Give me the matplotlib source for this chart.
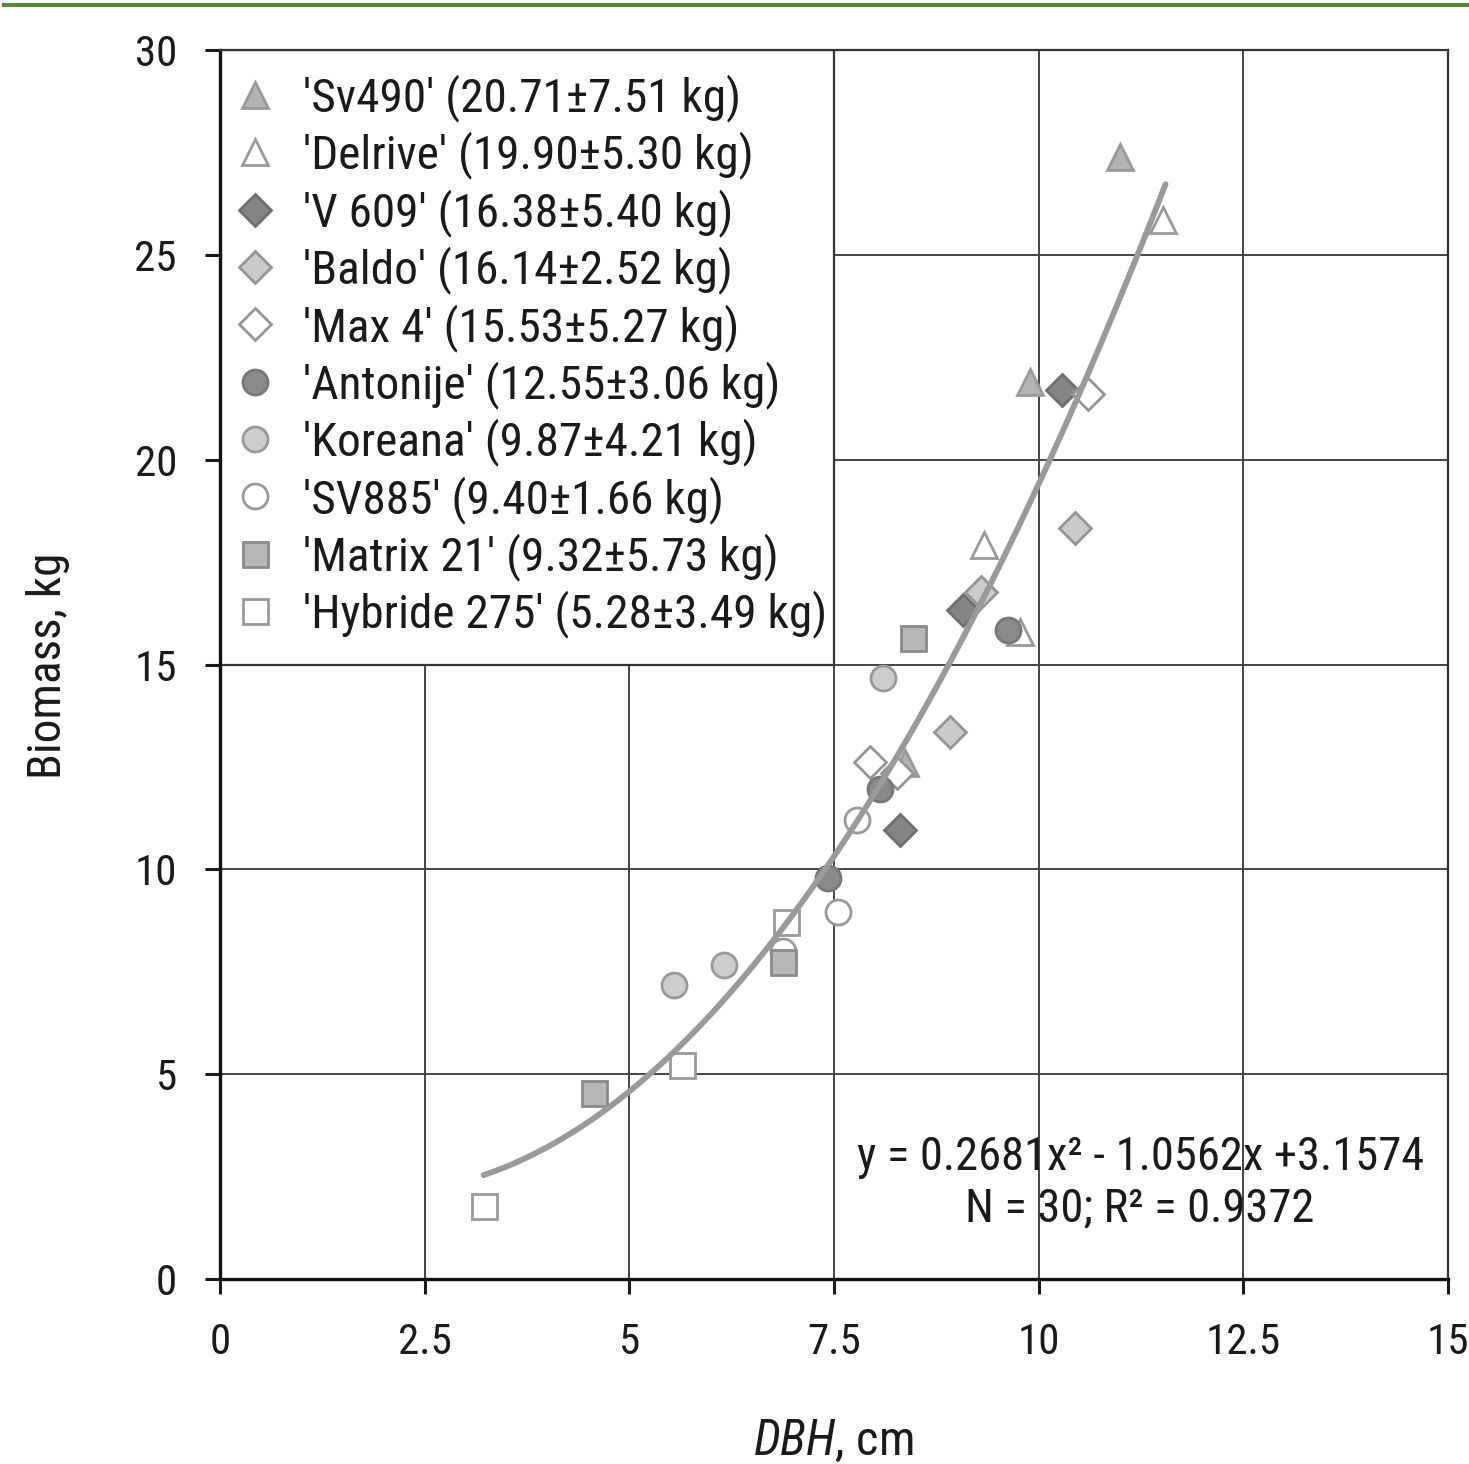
import numpy as np
import matplotlib
matplotlib.use('Agg')
import matplotlib.pyplot as plt
from matplotlib.patches import Rectangle
from matplotlib.lines import Line2D

plt.rcParams['font.family'] = ['Roboto Condensed', 'Archivo Narrow', 'Liberation Sans', 'DejaVu Sans']
plt.rcParams['mathtext.fontset'] = 'custom'
plt.rcParams['mathtext.it'] = 'Roboto Condensed:italic'
plt.rcParams['mathtext.rm'] = 'Roboto Condensed'

# Daten je Sorte: DBH (cm) und Biomasse (kg)
sorten = ["'Sv490' (20.71±7.51 kg)", "'Delrive' (19.90±5.30 kg)", "'V 609' (16.38±5.40 kg)",
          "'Baldo' (16.14±2.52 kg)", "'Max 4' (15.53±5.27 kg)", "'Antonije' (12.55±3.06 kg)",
          "'Koreana' (9.87±4.21 kg)", "'SV885' (9.40±1.66 kg)", "'Matrix 21' (9.32±5.73 kg)",
          "'Hybride 275' (5.28±3.49 kg)"]

sv490_x = [10.99, 9.89, 8.37]
sv490_y = [27.4, 21.9, 12.6]
delrive_x = [11.52, 9.33, 9.77]
delrive_y = [25.85, 17.92, 15.8]
v609_x = [10.28, 9.08, 8.31]
v609_y = [21.7, 16.33, 10.96]
baldo_x = [10.44, 8.92, 9.29]
baldo_y = [18.33, 13.35, 16.77]
max4_x = [10.6, 7.94, 8.27]
max4_y = [21.6, 12.62, 12.35]
antonije_x = [9.63, 8.06, 7.43]
antonije_y = [15.85, 11.95, 9.8]
koreana_x = [8.1, 5.55, 6.16]
koreana_y = [14.67, 7.18, 7.66]
sv885_x = [7.78, 7.55, 6.88]
sv885_y = [11.2, 8.96, 8.0]
matrix_x = [8.46, 6.88, 4.57]
matrix_y = [15.65, 7.75, 4.55]
hybride_x = [6.91, 5.64, 3.22]
hybride_y = [8.71, 5.22, 1.78]

# Regression y = a x^2 + b x + c
koef = [0.2681, -1.0562, 3.1574]
x_bereich = [3.22, 11.55]

x_ticks = [0, 2.5, 5, 7.5, 10, 12.5, 15]
x_labels = ['0', '2.5', '5', '7.5', '10', '12.5', '15']
y_ticks = [0, 5, 10, 15, 20, 25, 30]

# Stil je Serie: (Marker, Füllung, Rand, Größe)
stile = [('^', '#b4b4b4', '#9a9a9a', 19),
         ('^', 'white', '#9a9a9a', 19),
         ('D', '#858585', '#6e6e6e', 16.5),
         ('D', '#cbcbcb', '#959595', 16.5),
         ('D', 'white', '#959595', 16.5),
         ('o', '#8a8a8a', '#777777', 18),
         ('o', '#cdcdcd', '#999999', 18),
         ('o', 'white', '#999999', 18),
         ('s', '#b8b8b8', '#8a8a8a', 18),
         ('s', 'white', '#999999', 18)]

reihen = [(sv490_x, sv490_y), (delrive_x, delrive_y), (v609_x, v609_y), (baldo_x, baldo_y),
          (max4_x, max4_y), (antonije_x, antonije_y), (koreana_x, koreana_y),
          (sv885_x, sv885_y), (matrix_x, matrix_y), (hybride_x, hybride_y)]

fig = plt.figure(figsize=(14.69, 14.64), dpi=100)
ax = fig.add_axes([220 / 1469, 1 - 1279 / 1464, 1228 / 1469, 1229 / 1464])

ax.set_xlim(0, 15)
ax.set_ylim(0, 30)
ax.set_xticks(x_ticks)
ax.set_xticklabels(x_labels)
ax.set_yticks(y_ticks)
ax.grid(True, color='#444444', linewidth=1.4, zorder=0)
ax.set_axisbelow(True)

ax.tick_params(axis='both', direction='out', length=11, width=2.2, labelsize=31,
               colors='#1a1a1a', pad=20)
for s in ['left', 'bottom']:
    ax.spines[s].set_linewidth(2.4)
    ax.spines[s].set_color('#111111')
for s in ['top', 'right']:
    ax.spines[s].set_linewidth(1.6)
    ax.spines[s].set_color('#333333')

# weiße Box für die Legende
ax.add_patch(Rectangle((0, 15), 7.5, 15, facecolor='white', edgecolor='#333333',
                       linewidth=1.6, zorder=1))

# Punkte
for (xs, ys), (m, fc, ec, ms) in zip(reihen, stile):
    ax.plot(xs, ys, linestyle='none', marker=m, markersize=ms, markerfacecolor=fc,
            markeredgecolor=ec, markeredgewidth=2, zorder=3)

# Trendlinie
xx = np.linspace(x_bereich[0], x_bereich[1], 200)
yy = np.polyval(koef, xx)
ax.plot(xx, yy, color='#9a9a9a', linewidth=4.2, solid_capstyle='round', zorder=4)

# Legende
griffe = [Line2D([], [], linestyle='none', marker=m, markersize=ms, markerfacecolor=fc,
                 markeredgecolor=ec, markeredgewidth=2) for (m, fc, ec, ms) in stile]
leg = ax.legend(griffe, sorten, loc='upper left', bbox_to_anchor=(0, 0.988), frameon=False,
                fontsize=34, handlelength=1.1, handletextpad=0.45, labelspacing=0.2,
                borderpad=0.2, borderaxespad=0)
for t in leg.get_texts():
    t.set_color('#1a1a1a')

# Gleichung
ax.text(11.24, 2.35, 'y = 0.2681x² - 1.0562x +3.1574\nN = 30; R² = 0.9372', ha='center',
        va='center', fontsize=33.5, color='#1a1a1a', linespacing=1.2, zorder=5)

fig.text(48 / 1469, 1 - 666 / 1464, 'Biomass, kg', rotation=90, ha='center', va='center',
         fontsize=34, color='#1a1a1a')
fig.text(833 / 1469, 1 - 1455 / 1464, r'$\it{DBH}$, cm', ha='center', va='baseline',
         fontsize=35, color='#1a1a1a')

# grüne Linie oben
fig.add_artist(Line2D([0.003, 1], [1 - 5 / 1464, 1 - 5 / 1464], color='#5b8a3c', linewidth=3))

fig.savefig('out.png', dpi=100, facecolor='white')
